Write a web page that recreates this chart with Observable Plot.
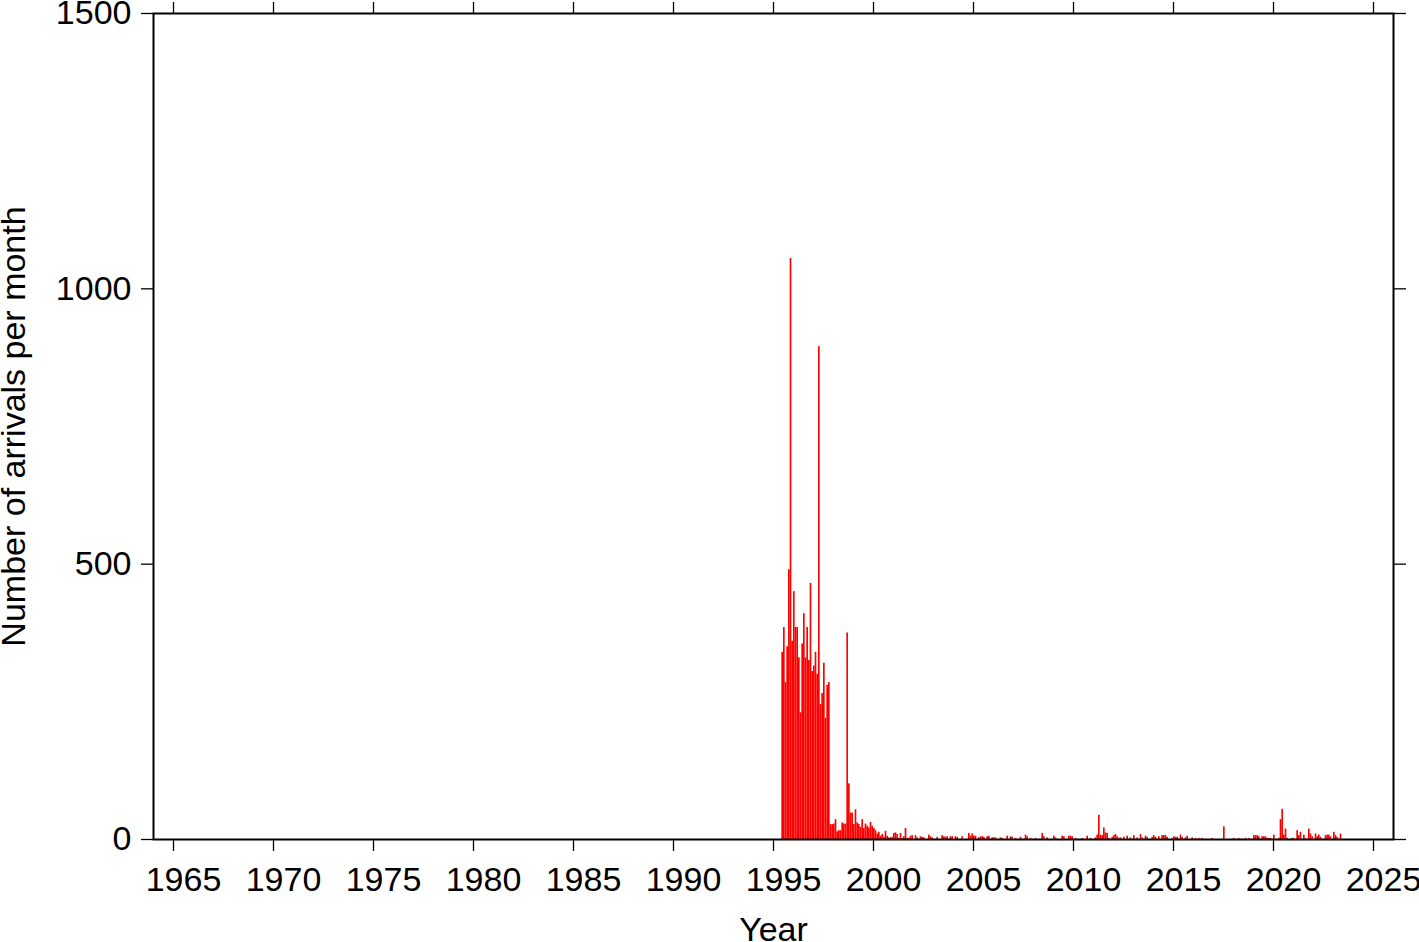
<!DOCTYPE html>
<html><head><meta charset="utf-8">
<script src="https://cdn.jsdelivr.net/npm/d3@7"></script>
<script src="https://cdn.jsdelivr.net/npm/@observablehq/plot@0.6"></script>
<style>body{margin:0;background:#fff}</style>
</head><body><div id="chart"></div>
<script>
// Monthly arrival counts (Jan..Dec) per year
const years = [1995,1996,1997,1998,1999,2000,2001,2002,2003,2004,2005,2006,2007,2008,2009,2010,2011,2012,2013,2014,2015,2016,2017,2018,2019,2020,2021,2022,2023];
const monthlyArrivals = [
  [0,0,0,0,0,340,385,285,350,490,1055,360],
  [450,385,385,330,230,355,410,330,385,325,465,305],
  [315,340,300,895,245,265,320,220,280,285,27,27],
  [28,36,14,16,16,30,28,28,375,101,48,48],
  [27,54,30,27,22,36,20,28,24,21,31,24],
  [20,16,10,13,6,9,4,15,6,3,3,4],
  [11,12,9,2,11,2,5,20,2,2,6,7],
  [0,7,3,0,5,4,3,0,0,8,5,3],
  [0,0,4,0,0,7,5,4,5,0,5,5],
  [0,5,4,0,0,5,0,0,0,11,6,10],
  [6,6,0,3,5,5,4,0,5,6,0,3],
  [3,3,0,0,3,2,0,0,6,0,5,4],
  [0,2,0,0,4,0,0,8,5,0,2,0],
  [0,2,0,0,0,11,5,0,3,0,0,0],
  [6,3,0,0,0,6,5,0,0,6,6,5],
  [0,2,0,0,0,2,0,0,6,0,2,0],
  [0,3,8,44,8,7,21,12,11,2,0,4],
  [7,9,5,2,3,0,4,0,6,0,3,0],
  [7,0,3,0,9,3,0,6,4,0,0,4],
  [7,4,0,5,0,7,7,7,4,0,0,2],
  [5,4,4,0,8,4,0,3,6,0,0,3],
  [0,2,0,2,0,2,0,0,0,0,0,2],
  [0,0,0,0,0,0,23,0,0,0,0,0],
  [2,0,0,2,0,0,0,2,0,2,0,0],
  [7,7,7,5,0,5,5,5,2,2,2,0],
  [8,0,0,2,36,55,8,19,2,0,0,2],
  [2,0,16,7,13,0,8,2,0,19,10,5],
  [0,10,5,8,4,0,0,7,8,8,5,0],
  [13,7,4,0,10]
];
const xTicks = [1965,1970,1975,1980,1985,1990,1995,2000,2005,2010,2015,2020,2025];
const yTicks = [0,500,1000,1500];
const xTitle = "Year";
const yTitle = "Number of arrivals per month";

const rows = [];
years.forEach((yr, i) => monthlyArrivals[i].forEach((v, m) => {
  if (v > 0) rows.push({start: yr + m / 12, end: yr + (m + 1) / 12, value: v});
}));

const FS = 34;
const chart = Plot.plot({
  width: 1419, height: 942,
  marginLeft: 153, marginRight: 26, marginTop: 13, marginBottom: 103,
  style: {fontFamily: "'Liberation Sans', Arial, Helvetica, sans-serif", fontSize: FS + "px", color: "black", background: "white", overflow: "visible"},
  x: {domain: [1964, 2026]},
  y: {domain: [0, 1500]},
  marks: [
    Plot.rectY(rows, {x1: "start", x2: "end", y: "value", fill: "#ff0000"}),
    Plot.axisX({anchor: "bottom", ticks: xTicks, tickSize: 12, tickFormat: () => "", label: null, strokeWidth: 1.3}),
    Plot.text(xTicks, {x: d => d, text: d => String(d), frameAnchor: "bottom", lineAnchor: "top", textAnchor: "middle", dy: 27, dx: 10, fontSize: FS, fill: "black"}),
    Plot.axisX({anchor: "top", ticks: xTicks, tickSize: 12, tickFormat: () => "", label: null, strokeWidth: 1.3}),
    Plot.axisY({anchor: "left", ticks: yTicks, tickSize: 12, tickPadding: 10, tickFormat: d => String(d), label: null, strokeWidth: 1.3, fontSize: FS}),
    Plot.axisY({anchor: "right", ticks: yTicks, tickSize: 12, tickFormat: () => "", label: null, strokeWidth: 1.3}),
    Plot.frame({stroke: "black", strokeWidth: 2}),
    Plot.text([xTitle], {frameAnchor: "bottom", dy: 91, lineAnchor: "middle", textAnchor: "middle", fontSize: FS, fill: "black"}),
    Plot.text([yTitle], {frameAnchor: "left", dx: -139, rotate: -90, lineAnchor: "middle", textAnchor: "middle", fontSize: FS, fill: "black"})
  ]
});
document.getElementById("chart").appendChild(chart);
</script>
</body></html>
